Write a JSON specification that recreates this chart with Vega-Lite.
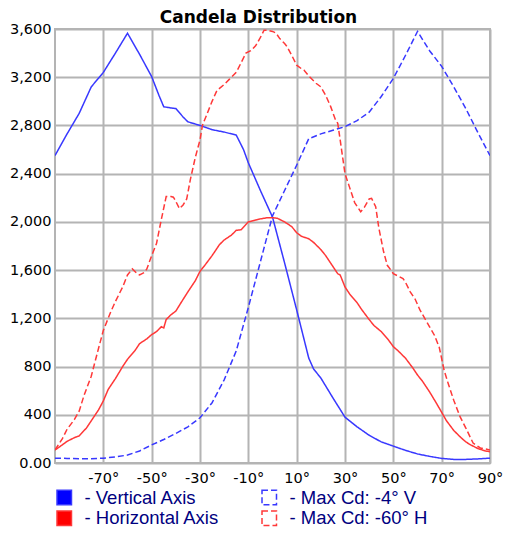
{
  "$schema": "https://vega.github.io/schema/vega-lite/v6.json",
  "width": 435,
  "height": 434,
  "autosize": {"type": "none"},
  "padding": {"left": 55, "top": 29, "right": 18, "bottom": 71},
  "background": "white",
  "title": {"text": "Candela Distribution", "font": "DejaVu Sans", "fontSize": 17, "fontWeight": "bold", "color": "black", "anchor": "middle", "dx": -14, "offset": -6},
  "config": {
    "view": {"stroke": "#b4b4b4", "strokeWidth": 2},
    "axis": {"labelFont": "DejaVu Sans", "labelFontSize": 14.5, "labelColor": "black", "ticks": false, "domain": false, "grid": true, "gridColor": "#b4b4b4", "gridWidth": 2, "gridOpacity": 1, "title": null, "labelOverlap": false, "labelFlush": false, "labelBound": false}
  },
  "data": {"values": [
    {"s":"V","a":-90,"v":2550},{"s":"V","a":-85,"v":2730},{"s":"V","a":-80,"v":2900},{"s":"V","a":-75,"v":3120},{"s":"V","a":-70,"v":3240},{"s":"V","a":-65,"v":3400},{"s":"V","a":-60,"v":3565},{"s":"V","a":-55,"v":3390},{"s":"V","a":-50,"v":3205},{"s":"V","a":-47,"v":3050},{"s":"V","a":-45,"v":2955},{"s":"V","a":-42,"v":2945},{"s":"V","a":-40,"v":2940},{"s":"V","a":-37,"v":2870},{"s":"V","a":-35,"v":2830},{"s":"V","a":-30,"v":2800},{"s":"V","a":-25,"v":2765},{"s":"V","a":-20,"v":2745},{"s":"V","a":-15,"v":2720},{"s":"V","a":-12,"v":2600},{"s":"V","a":-10,"v":2490},{"s":"V","a":-5,"v":2260},{"s":"V","a":0,"v":2040},{"s":"V","a":5,"v":1660},{"s":"V","a":10,"v":1270},{"s":"V","a":15,"v":870},{"s":"V","a":17,"v":780},{"s":"V","a":20,"v":705},{"s":"V","a":25,"v":540},{"s":"V","a":30,"v":380},{"s":"V","a":35,"v":300},{"s":"V","a":40,"v":230},{"s":"V","a":45,"v":175},{"s":"V","a":50,"v":140},{"s":"V","a":55,"v":105},{"s":"V","a":60,"v":75},{"s":"V","a":65,"v":55},{"s":"V","a":70,"v":38},{"s":"V","a":75,"v":30},{"s":"V","a":80,"v":30},{"s":"V","a":85,"v":34},{"s":"V","a":90,"v":40},

    {"s":"VM","a":-90,"v":40},{"s":"VM","a":-85,"v":38},{"s":"VM","a":-80,"v":35},{"s":"VM","a":-75,"v":35},{"s":"VM","a":-70,"v":40},{"s":"VM","a":-65,"v":50},{"s":"VM","a":-60,"v":66},{"s":"VM","a":-55,"v":100},{"s":"VM","a":-50,"v":150},{"s":"VM","a":-45,"v":195},{"s":"VM","a":-40,"v":245},{"s":"VM","a":-35,"v":300},{"s":"VM","a":-30,"v":375},{"s":"VM","a":-25,"v":500},{"s":"VM","a":-20,"v":690},{"s":"VM","a":-15,"v":930},{"s":"VM","a":-10,"v":1290},{"s":"VM","a":-5,"v":1670},{"s":"VM","a":0,"v":2050},{"s":"VM","a":5,"v":2260},{"s":"VM","a":10,"v":2470},{"s":"VM","a":15,"v":2690},{"s":"VM","a":20,"v":2730},{"s":"VM","a":25,"v":2760},{"s":"VM","a":30,"v":2790},{"s":"VM","a":35,"v":2840},{"s":"VM","a":40,"v":2910},{"s":"VM","a":45,"v":3040},{"s":"VM","a":50,"v":3190},{"s":"VM","a":55,"v":3380},{"s":"VM","a":60,"v":3580},{"s":"VM","a":65,"v":3420},{"s":"VM","a":70,"v":3290},{"s":"VM","a":75,"v":3120},{"s":"VM","a":80,"v":2940},{"s":"VM","a":85,"v":2740},{"s":"VM","a":90,"v":2550},

    {"s":"H","a":-90,"v":108},{"s":"H","a":-87,"v":150},{"s":"H","a":-85,"v":180},{"s":"H","a":-82,"v":210},{"s":"H","a":-80,"v":225},{"s":"H","a":-77,"v":290},{"s":"H","a":-75,"v":350},{"s":"H","a":-72,"v":440},{"s":"H","a":-70,"v":515},{"s":"H","a":-68,"v":610},{"s":"H","a":-65,"v":700},{"s":"H","a":-62,"v":800},{"s":"H","a":-60,"v":860},{"s":"H","a":-57,"v":930},{"s":"H","a":-55,"v":990},{"s":"H","a":-52,"v":1030},{"s":"H","a":-50,"v":1065},{"s":"H","a":-48,"v":1090},{"s":"H","a":-46,"v":1130},{"s":"H","a":-45,"v":1120},{"s":"H","a":-44,"v":1190},{"s":"H","a":-42,"v":1230},{"s":"H","a":-40,"v":1260},{"s":"H","a":-38,"v":1325},{"s":"H","a":-35,"v":1420},{"s":"H","a":-32,"v":1510},{"s":"H","a":-30,"v":1590},{"s":"H","a":-28,"v":1640},{"s":"H","a":-25,"v":1720},{"s":"H","a":-22,"v":1810},{"s":"H","a":-20,"v":1850},{"s":"H","a":-17,"v":1890},{"s":"H","a":-15,"v":1930},{"s":"H","a":-13,"v":1935},{"s":"H","a":-10,"v":2000},{"s":"H","a":-7,"v":2015},{"s":"H","a":-5,"v":2025},{"s":"H","a":-2,"v":2035},{"s":"H","a":0,"v":2035},{"s":"H","a":2,"v":2030},{"s":"H","a":5,"v":2000},{"s":"H","a":8,"v":1960},{"s":"H","a":10,"v":1910},{"s":"H","a":12,"v":1880},{"s":"H","a":15,"v":1860},{"s":"H","a":17,"v":1830},{"s":"H","a":20,"v":1770},{"s":"H","a":22,"v":1720},{"s":"H","a":25,"v":1630},{"s":"H","a":27,"v":1570},{"s":"H","a":28,"v":1560},{"s":"H","a":30,"v":1460},{"s":"H","a":32,"v":1400},{"s":"H","a":35,"v":1330},{"s":"H","a":37,"v":1270},{"s":"H","a":40,"v":1190},{"s":"H","a":42,"v":1140},{"s":"H","a":45,"v":1090},{"s":"H","a":48,"v":1020},{"s":"H","a":50,"v":965},{"s":"H","a":52,"v":930},{"s":"H","a":55,"v":870},{"s":"H","a":58,"v":790},{"s":"H","a":60,"v":730},{"s":"H","a":62,"v":680},{"s":"H","a":65,"v":590},{"s":"H","a":68,"v":490},{"s":"H","a":70,"v":420},{"s":"H","a":72,"v":350},{"s":"H","a":75,"v":270},{"s":"H","a":78,"v":210},{"s":"H","a":80,"v":175},{"s":"H","a":82,"v":150},{"s":"H","a":85,"v":120},{"s":"H","a":88,"v":100},{"s":"H","a":90,"v":94},

    {"s":"HM","a":-90,"v":108},{"s":"HM","a":-87,"v":200},{"s":"HM","a":-85,"v":280},{"s":"HM","a":-82,"v":360},{"s":"HM","a":-80,"v":430},{"s":"HM","a":-78,"v":560},{"s":"HM","a":-75,"v":720},{"s":"HM","a":-72,"v":950},{"s":"HM","a":-70,"v":1100},{"s":"HM","a":-67,"v":1250},{"s":"HM","a":-65,"v":1340},{"s":"HM","a":-62,"v":1460},{"s":"HM","a":-60,"v":1560},{"s":"HM","a":-58,"v":1610},{"s":"HM","a":-56,"v":1570},{"s":"HM","a":-55,"v":1560},{"s":"HM","a":-53,"v":1580},{"s":"HM","a":-52,"v":1610},{"s":"HM","a":-50,"v":1720},{"s":"HM","a":-48,"v":1820},{"s":"HM","a":-46,"v":2020},{"s":"HM","a":-44,"v":2210},{"s":"HM","a":-42,"v":2210},{"s":"HM","a":-41,"v":2205},{"s":"HM","a":-40,"v":2170},{"s":"HM","a":-38.5,"v":2110},{"s":"HM","a":-37,"v":2140},{"s":"HM","a":-35.5,"v":2190},{"s":"HM","a":-34,"v":2350},{"s":"HM","a":-32,"v":2530},{"s":"HM","a":-30,"v":2680},{"s":"HM","a":-29,"v":2800},{"s":"HM","a":-27,"v":2900},{"s":"HM","a":-25,"v":3000},{"s":"HM","a":-23,"v":3090},{"s":"HM","a":-20,"v":3140},{"s":"HM","a":-18,"v":3180},{"s":"HM","a":-15,"v":3240},{"s":"HM","a":-13,"v":3320},{"s":"HM","a":-11,"v":3400},{"s":"HM","a":-9,"v":3420},{"s":"HM","a":-7,"v":3460},{"s":"HM","a":-5,"v":3530},{"s":"HM","a":-3.5,"v":3590},{"s":"HM","a":-2,"v":3590},{"s":"HM","a":0,"v":3580},{"s":"HM","a":1.5,"v":3565},{"s":"HM","a":3,"v":3520},{"s":"HM","a":5,"v":3480},{"s":"HM","a":6,"v":3455},{"s":"HM","a":8,"v":3380},{"s":"HM","a":10,"v":3300},{"s":"HM","a":12,"v":3270},{"s":"HM","a":13,"v":3260},{"s":"HM","a":15,"v":3210},{"s":"HM","a":18,"v":3150},{"s":"HM","a":20,"v":3120},{"s":"HM","a":22,"v":3050},{"s":"HM","a":24,"v":2960},{"s":"HM","a":26,"v":2850},{"s":"HM","a":27,"v":2818},{"s":"HM","a":28,"v":2680},{"s":"HM","a":29,"v":2540},{"s":"HM","a":30,"v":2400},{"s":"HM","a":32,"v":2280},{"s":"HM","a":34,"v":2160},{"s":"HM","a":36.5,"v":2085},{"s":"HM","a":38,"v":2120},{"s":"HM","a":40,"v":2190},{"s":"HM","a":41,"v":2195},{"s":"HM","a":42.7,"v":2126},{"s":"HM","a":44,"v":1950},{"s":"HM","a":46,"v":1750},{"s":"HM","a":47.5,"v":1640},{"s":"HM","a":49,"v":1600},{"s":"HM","a":50,"v":1570},{"s":"HM","a":52,"v":1550},{"s":"HM","a":54,"v":1530},{"s":"HM","a":55,"v":1500},{"s":"HM","a":57,"v":1420},{"s":"HM","a":59,"v":1360},{"s":"HM","a":61,"v":1270},{"s":"HM","a":63,"v":1200},{"s":"HM","a":65,"v":1130},{"s":"HM","a":67,"v":1060},{"s":"HM","a":69,"v":960},{"s":"HM","a":71,"v":770},{"s":"HM","a":72.7,"v":660},{"s":"HM","a":75,"v":520},{"s":"HM","a":77.6,"v":384},{"s":"HM","a":80,"v":290},{"s":"HM","a":83,"v":165},{"s":"HM","a":86,"v":125},{"s":"HM","a":90,"v":108}
  ]},
  "mark": {"type": "line", "strokeWidth": 1.5, "clip": true},
  "encoding": {
    "x": {"field": "a", "type": "quantitative", "scale": {"domain": [-90, 90], "nice": false, "zero": false},
      "axis": {"values": [-70, -50, -30, -10, 10, 30, 50, 70, 90], "labelExpr": "datum.value + '°'", "labelPadding": 8, "labelDx": 6}},
    "y": {"field": "v", "type": "quantitative", "scale": {"domain": [0, 3600], "nice": false},
      "axis": {"values": [0, 400, 800, 1200, 1600, 2000, 2400, 2800, 3200, 3600], "labelExpr": "datum.value == 0 ? '0.00' : format(datum.value, ',')", "labelPadding": 4}},
    "color": {"field": "s", "type": "nominal",
      "scale": {"domain": ["V", "H", "VM", "HM"], "range": ["#3838ff", "#ff3838", "#3838ff", "#ff3838"]},
      "legend": {"orient": "none", "legendX": 0, "legendY": 459, "columns": 2, "columnPadding": 39, "rowPadding": 0,
        "symbolType": "square", "symbolSize": 210, "symbolStrokeWidth": 1.5,
        "labelFont": "Liberation Sans", "labelFontSize": 18.5, "labelColor": "#000080", "labelOffset": 11, "labelLimit": 300,
        "labelExpr": "datum.value == 'V' ? '- Vertical Axis' : datum.value == 'VM' ? '- Max Cd: -4° V' : datum.value == 'H' ? '- Horizontal Axis' : '- Max Cd: -60° H'",
        "title": null,
        "encode": {"symbols": {"update": {
          "fill": {"signal": "datum.value == 'V' ? '#0000ff' : datum.value == 'H' ? '#ff0000' : 'transparent'"},
          "stroke": {"signal": "datum.value[0] == 'V' ? '#0000ff' : '#ff0000'"},
          "strokeDash": {"signal": "length(datum.value) > 1 ? [3, 3] : [1, 0]"},
          "opacity": {"value": 1}
        }}}}},
    "strokeDash": {"field": "s", "type": "nominal",
      "scale": {"domain": ["V", "H", "VM", "HM"], "range": [[1, 0], [1, 0], [6, 3], [6, 3]]}}
  }
}
